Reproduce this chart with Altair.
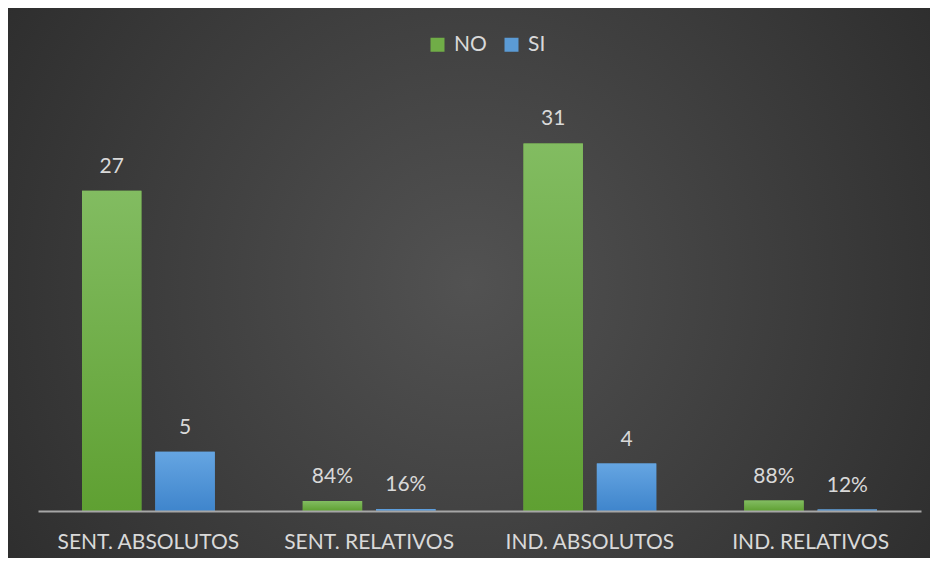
import altair as alt
import pandas as pd

categories = ["SENT. ABSOLUTOS", "SENT. RELATIVOS", "IND. ABSOLUTOS", "IND. RELATIVOS"]
series = ["NO", "SI"]
no_values = [27, 0.84, 31, 0.88]
si_values = [5, 0.16, 4, 0.12]
is_relative = [False, True, False, True]
series_colors = ["#70ad47", "#5b9bd5"]

rows = []
for c, rel, n, s in zip(categories, is_relative, no_values, si_values):
    for ser, v in (("NO", n), ("SI", s)):
        lab = f"{round(v * 100)}%" if rel else f"{v}"
        rows.append({"cat": c, "serie": ser, "valor": v, "etiqueta": lab})
df = pd.DataFrame(rows)

W, H = 883, 415
PAD = {"left": 30, "top": 88, "right": 9, "bottom": 47}
FONT = "Lato"
TXT = "#d9d9d9"
FS = 21

x = alt.X("cat:N", sort=categories,
          scale=alt.Scale(paddingInner=0, paddingOuter=0),
          axis=alt.Axis(title=None, labelAngle=0, labelFont=FONT, labelFontSize=FS,
                        labelColor=TXT, ticks=False, labelPadding=20, labelLimit=400,
                        zindex=2, domainColor="#a6a6a6", domainWidth=2))
xo = alt.XOffset("serie:N", scale=alt.Scale(domain=series, paddingInner=0.19, paddingOuter=0.6))
y = alt.Y("valor:Q", scale=alt.Scale(domain=[0, 35], nice=False), axis=None)

bg = alt.Chart(pd.DataFrame({"a": [0]})).mark_rect(
    color=alt.RadialGradient(
        gradient="radial", x1=0.5, y1=0.5, r1=0, x2=0.5, y2=0.5, r2=0.72,
        stops=[alt.GradientStop(offset=0, color="#525252"),
               alt.GradientStop(offset=1, color="#262626")])
).encode(
    x=alt.value(-PAD["left"]), x2=alt.value(W + PAD["right"]),
    y=alt.value(-PAD["top"]), y2=alt.value(H + PAD["bottom"])
)

base = alt.Chart(df)

bars = base.mark_bar().encode(
    x=x, xOffset=xo, y=y,
    color=alt.Color("serie:N", scale=alt.Scale(domain=series, range=series_colors),
                    legend=alt.Legend(title=None, orient="none", legendX=389, legendY=-62,
                                      direction="horizontal", symbolType="square",
                                      symbolSize=196, symbolStrokeWidth=0,
                                      labelFontSize=FS, labelColor=TXT, labelFont=FONT,
                                      columnPadding=14, labelOffset=6, padding=0))
)

def grad(top, bottom):
    return alt.LinearGradient(gradient="linear", x1=0, y1=0, x2=0, y2=1,
                              stops=[alt.GradientStop(offset=0, color=top),
                                     alt.GradientStop(offset=1, color=bottom)])

green = base.transform_filter(alt.datum.serie == "NO").mark_bar(
    color=grad("#82bc61", "#5fa032")).encode(x=x, xOffset=xo, y=y)
blue = base.transform_filter(alt.datum.serie == "SI").mark_bar(
    color=grad("#65a5e2", "#3f85cc")).encode(x=x, xOffset=xo, y=y)

labels = base.mark_text(dy=-18, baseline="alphabetic", fontSize=FS, font=FONT, color=TXT).encode(
    x=x, xOffset=xo, y=y, text="etiqueta:N")

chart = alt.layer(bg, bars, green, blue, labels).properties(
    width=W, height=H, background="#2a2a2a", padding=PAD,
    autosize=alt.AutoSizeParams(type="none")
).configure_view(stroke=None)

chart.save("out.html", embed_options={"renderer": "svg", "actions": False})
